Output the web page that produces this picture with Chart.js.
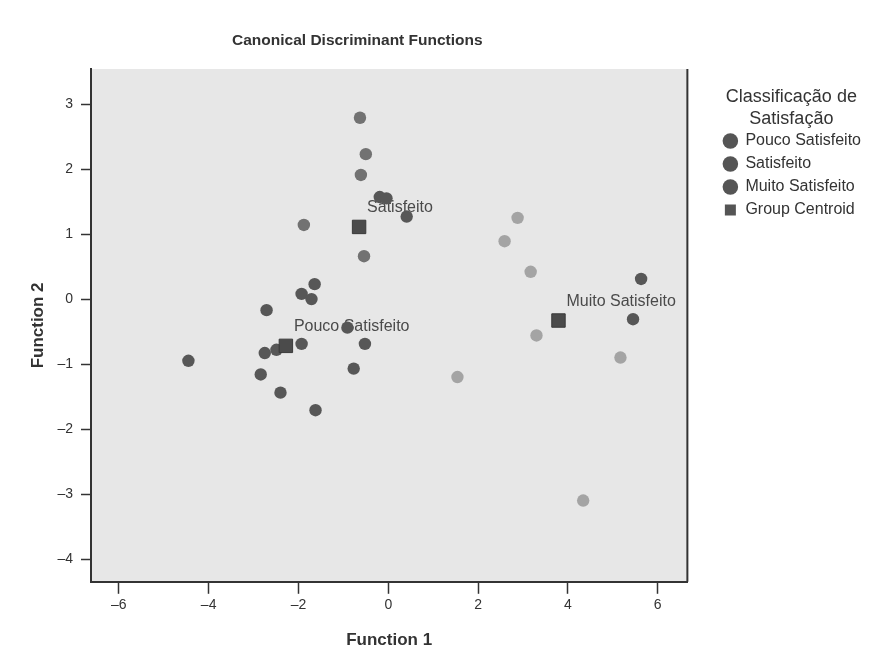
<!DOCTYPE html>
<html>
<head>
<meta charset="utf-8">
<title>Canonical Discriminant Functions</title>
<script src="https://cdn.jsdelivr.net/npm/chart.js@4.4.1/dist/chart.umd.min.js"></script>
<style>
  html, body { margin: 0; padding: 0; background: #fff; }
  #wrap { width: 880px; height: 653px; }
</style>
</head>
<body>
<div id="wrap"><canvas id="discChart" width="880" height="653"></canvas></div>
<script>
// scores on Function 1 (x) / Function 2 (y)
var poucoX = [-0.19, -0.04, 0.41, -1.64, -1.93, -1.71, -2.71, -0.91, -1.93, -0.52, -2.49, -2.75, -4.45, -2.84, -0.77, -2.40, -1.62, 5.63, 5.45];
var poucoY = [1.57, 1.55, 1.27, 0.23, 0.08, 0.00, -0.17, -0.44, -0.69, -0.69, -0.78, -0.83, -0.95, -1.16, -1.07, -1.44, -1.71, 0.31, -0.31];

var satisX = [-0.63, -0.50, -0.61, -1.88, -0.54];
var satisY = [2.79, 2.23, 1.91, 1.14, 0.66];

var muitoX = [2.88, 2.59, 3.17, 3.30, 1.54, 5.17, 4.34];
var muitoY = [1.25, 0.89, 0.42, -0.56, -1.20, -0.90, -3.10];

var centroidNames = ["Pouco Satisfeito", "Satisfeito", "Muito Satisfeito"];
var centroidX = [-2.28, -0.65, 3.79];
var centroidY = [-0.72, 1.11, -0.33];

var xTicks = [-6, -4, -2, 0, 2, 4, 6];
var yTicks = [3, 2, 1, 0, -1, -2, -3, -4];

var FONT = "'Liberation Sans', Arial, sans-serif";

function toPoints(xs, ys) {
  return xs.map(function(x, i) { return { x: x, y: ys[i] }; });
}

function minusLabel(v) {
  return v < 0 ? "\u2013" + Math.abs(v) : String(v);
}

// fond cinza, borda direita, rótulos dos centróides e título
var plotDecor = {
  id: "plotDecor",
  afterLayout: function(chart) {
    var lg = chart.legend;
    lg.left = chart.chartArea.right + 29;
    lg.width = 150;
    lg.right = lg.left + lg.width;
  },
  beforeDraw: function(chart) {
    var a = chart.chartArea, ctx = chart.ctx;
    ctx.save();
    ctx.fillStyle = "#e7e7e7";
    ctx.fillRect(a.left, a.top, a.right - a.left, a.bottom - a.top);
    ctx.restore();
  },
  beforeDatasetsDraw: function(chart) {
    var ctx = chart.ctx, xs = chart.scales.x, ys = chart.scales.y;
    ctx.save();
    ctx.font = "16px " + FONT;
    ctx.fillStyle = "#4a4a4a";
    ctx.textAlign = "left";
    ctx.textBaseline = "middle";
    centroidNames.forEach(function(name, i) {
      var px = xs.getPixelForValue(centroidX[i]);
      var py = ys.getPixelForValue(centroidY[i]);
      ctx.fillText(name, px + 8, py - 19);
    });
    ctx.restore();
  },
  afterDraw: function(chart) {
    var a = chart.chartArea, ctx = chart.ctx;
    ctx.save();
    ctx.strokeStyle = "#333";
    ctx.lineWidth = 2;
    ctx.beginPath();
    ctx.moveTo(a.right, a.top);
    ctx.lineTo(a.right, a.bottom);
    ctx.stroke();
    ctx.font = "bold 15.5px " + FONT;
    ctx.fillStyle = "#333";
    ctx.textAlign = "left";
    ctx.textBaseline = "middle";
    ctx.fillText("Canonical Discriminant Functions", 232, 41);
    ctx.restore();
  }
};

var ctx = document.getElementById("discChart").getContext("2d");
var chart = new Chart(ctx, {
  type: "scatter",
  data: {
    datasets: [{
      label: "Pouco Satisfeito",
      data: toPoints(poucoX, poucoY),
      backgroundColor: "#575757",
      pointRadius: 6.2,
      pointBorderWidth: 0,
      order: 1
    }, {
      label: "Satisfeito",
      data: toPoints(satisX, satisY),
      backgroundColor: "#727272",
      pointRadius: 6.2,
      pointBorderWidth: 0,
      order: 2
    }, {
      label: "Muito Satisfeito",
      data: toPoints(muitoX, muitoY),
      backgroundColor: "#a4a4a4",
      pointRadius: 6.2,
      pointBorderWidth: 0,
      order: 3
    }, {
      label: "Group Centroid",
      data: toPoints(centroidX, centroidY),
      pointStyle: "rect",
      backgroundColor: "#4b4b4b",
      borderColor: "#3a3a3a",
      pointRadius: 9.5,
      pointBorderWidth: 1,
      order: 0
    }]
  },
  options: {
    responsive: false,
    animation: false,
    events: [],
    layout: { padding: { left: 20, top: 69, right: 38, bottom: 2 } },
    plugins: {
      tooltip: { enabled: false },
      title: { display: false },
      legend: {
        position: "right",
        align: "start",
        title: {
          display: true,
          text: ["Classificação de", "Satisfação"],
          position: "center",
          color: "#333",
          font: { family: FONT, size: 18, lineHeight: 1.25 },
          padding: { top: 19, bottom: 15.5 }
        },
        labels: {
          usePointStyle: true,
          boxWidth: 14,
          boxHeight: 11,
          padding: 7,
          color: "#333",
          font: { family: FONT, size: 16 },
          sort: function(a, b) { return a.datasetIndex - b.datasetIndex; },
          generateLabels: function(chart) {
            var items = Chart.defaults.plugins.legend.labels.generateLabels(chart);
            items.forEach(function(it) {
              it.fillStyle = "#555";
              it.strokeStyle = "#555";
              it.lineWidth = 0;
            });
            return items;
          }
        }
      }
    },
    scales: {
      x: {
        type: "linear",
        min: -6.62,
        max: 6.66,
        afterBuildTicks: function(axis) {
          axis.ticks = xTicks.map(function(v) { return { value: v }; });
        },
        ticks: {
          autoSkip: false,
          maxRotation: 0,
          padding: 3,
          color: "#333",
          font: { family: FONT, size: 14 },
          callback: minusLabel
        },
        grid: { drawOnChartArea: false, drawTicks: true, tickLength: 12, tickColor: "#333", tickWidth: 1.5 },
        border: { color: "#333", width: 2 },
        title: {
          display: true,
          text: "Function 1",
          color: "#333",
          font: { family: FONT, size: 17, weight: "bold" },
          padding: { top: 14, bottom: 0 }
        }
      },
      y: {
        type: "linear",
        min: -4.35,
        max: 3.54,
        afterBuildTicks: function(axis) {
          axis.ticks = yTicks.map(function(v) { return { value: v }; });
        },
        ticks: {
          autoSkip: false,
          padding: 8,
          color: "#333",
          font: { family: FONT, size: 14 },
          callback: minusLabel
        },
        grid: { drawOnChartArea: false, drawTicks: true, tickLength: 10, tickColor: "#333", tickWidth: 1.5 },
        border: { color: "#333", width: 2 },
        title: {
          display: true,
          text: "Function 2",
          color: "#333",
          font: { family: FONT, size: 17, weight: "bold" },
          padding: { top: 8, bottom: 1 }
        }
      }
    }
  },
  plugins: [plotDecor]
});
</script>
</body>
</html>
